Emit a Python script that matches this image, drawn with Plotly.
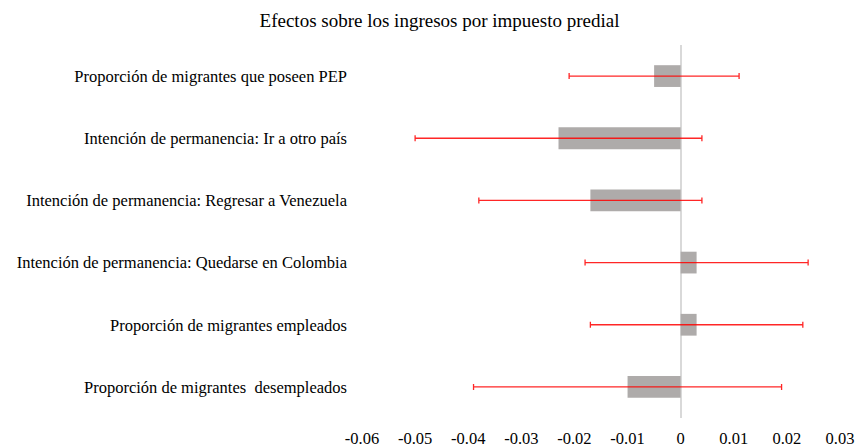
import plotly.graph_objects as go

categories = [
    "Proporción de migrantes que poseen PEP",
    "Intención de permanencia: Ir a otro país",
    "Intención de permanencia: Regresar a Venezuela",
    "Intención de permanencia: Quedarse en Colombia",
    "Proporción de migrantes empleados",
    "Proporción de migrantes  desempleados",
]
coef = [-0.005, -0.023, -0.017, 0.003, 0.003, -0.010]
err = [0.016, 0.027, 0.021, 0.021, 0.020, 0.029]
tick_vals = [-0.06, -0.05, -0.04, -0.03, -0.02, -0.01, 0, 0.01, 0.02, 0.03]
tick_text = ["-0.06", "-0.05", "-0.04", "-0.03", "-0.02", "-0.01", "0", "0.01", "0.02", "0.03"]
title = "Efectos sobre los ingresos por impuesto predial"

FONT = "Liberation Serif, Times New Roman, serif"

fig = go.Figure(
    go.Bar(
        x=coef,
        y=categories,
        orientation="h",
        width=0.35,
        marker=dict(color="#AEABAA", line=dict(width=0)),
        error_x=dict(type="data", array=err, visible=True, color="rgba(255,0,0,0.85)",
                     thickness=1.3, width=3),
    )
)

fig.update_layout(
    width=857,
    height=447,
    margin=dict(l=362, r=17, t=45, b=29, autoexpand=False),
    paper_bgcolor="white",
    plot_bgcolor="white",
    showlegend=False,
    font=dict(family=FONT, size=16.5, color="black"),
    title=dict(text=title, x=439.5 / 857, xref="container", xanchor="center",
               y=1 - 20 / 447, yref="container", yanchor="middle",
               font=dict(family=FONT, size=19, color="black")),
)
fig.update_xaxes(
    range=[-0.06, 0.03],
    tickvals=tick_vals,
    ticktext=tick_text,
    showgrid=False,
    showline=False,
    zeroline=True,
    zerolinecolor="#D9D9D9",
    zerolinewidth=2,
    ticks="",
    automargin=False,
    ticklabelstandoff=8,
    tickfont=dict(family=FONT, size=16.5, color="black"),
)
fig.update_yaxes(
    categoryorder="array",
    categoryarray=categories,
    autorange="reversed",
    showgrid=False,
    showline=False,
    zeroline=False,
    ticks="",
    automargin=False,
    ticklabelstandoff=14,
    tickfont=dict(family=FONT, size=16.5, color="black"),
)

fig.write_html(
    "out.html",
    config={"displayModeBar": False},
    post_script="document.body.style.margin='0';document.body.style.overflow='hidden';",
)
